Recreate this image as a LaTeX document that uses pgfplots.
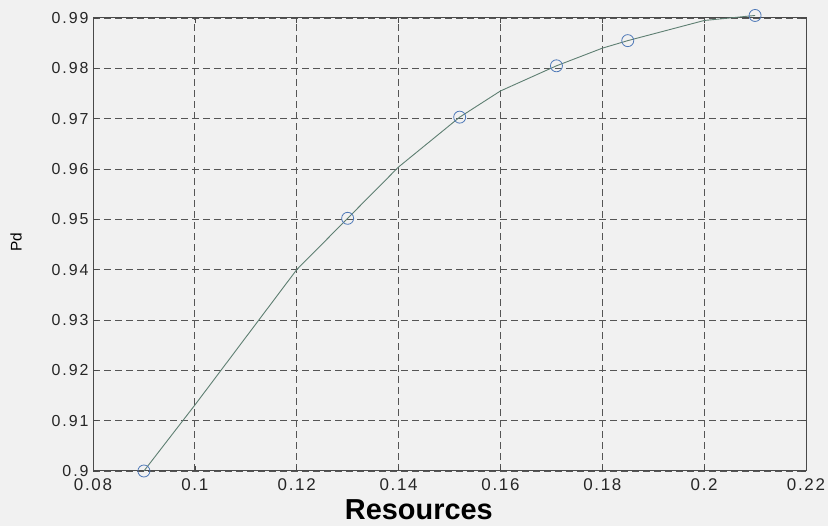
\documentclass[border=0pt]{standalone}
\usepackage{pgfplots}
\pgfplotsset{compat=1.18}
\usepackage{fontspec}
\setmainfont{Liberation Sans}
\definecolor{pagebg}{HTML}{F1F1F1}
\definecolor{curve}{HTML}{5E7F72}
\definecolor{marker}{HTML}{4F79B8}
\definecolor{frame}{HTML}{4A4A4A}
\definecolor{gridc}{HTML}{555555}
\begin{document}
\begin{tikzpicture}[x=1bp,y=1bp]
\fill[pagebg] (0,0) rectangle (828,526);
\useasboundingbox (0,0) rectangle (828,526);
\begin{axis}[
  at={(93bp,55bp)}, anchor=south west,
  width=713bp, height=453bp, scale only axis,
  xmin=0.08, xmax=0.22, ymin=0.9, ymax=0.99,
  xtick={0.08,0.1,...,0.221}, ytick={0.9,0.91,...,0.991},
  /pgf/number format/fixed,
  /pgf/number format/assume math mode=true,
  tick label style={text=black!85},
  yticklabel style={font=\fontsize{16}{17}\selectfont\addfontfeature{LetterSpace=12}, xshift=-1bp},
  xticklabel style={font=\fontsize{17}{18}\selectfont\addfontfeature{LetterSpace=10}, yshift=-4bp},
  tick align=inside, major tick length=5bp,
  tick style={frame, line width=0.7bp},
  axis line style={frame, line width=1bp},
  grid=major,
  major grid style={gridc, dash pattern=on 7bp off 4bp, line width=0.8bp},
  xlabel={\textbf{Resources}},
  xlabel style={font=\fontsize{29}{31}\selectfont, at={(axis description cs:0.457,0)}, anchor=base, yshift=-49bp},
  ylabel={Pd},
  ylabel style={font=\fontsize{15.5}{16}\selectfont, at={(axis description cs:0,0.505)}, anchor=center, yshift=77bp},
  clip=false,
]
% sampled curve
\addplot[curve, line width=0.9bp] coordinates {
  (0.09,0.9000) (0.10,0.9131) (0.12,0.9400) (0.13,0.9502) (0.14,0.9604)
  (0.152,0.9703) (0.16,0.9755) (0.171,0.9805) (0.18,0.9840) (0.185,0.9855)
  (0.20,0.9895) (0.21,0.9905)
};
% evaluated operating points
\addplot[only marks, mark=o, mark size=6bp, mark options={marker, line width=0.8bp}] coordinates {
  (0.09,0.900) (0.13,0.9502) (0.152,0.9703) (0.171,0.9805) (0.185,0.9855) (0.21,0.9905)
};
\end{axis}
\end{tikzpicture}
\end{document}
